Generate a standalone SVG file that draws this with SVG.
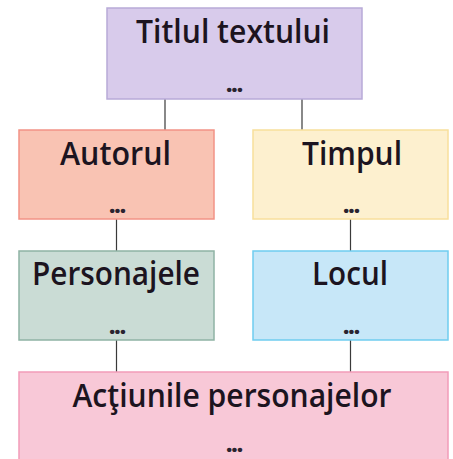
<svg xmlns="http://www.w3.org/2000/svg" width="453" height="459" viewBox="0 0 453 459">
<style>
.t{font-family:"Open Sans","Liberation Sans",sans-serif;font-size:33px;fill:#1c1420;text-anchor:middle;font-weight:600}
.d{font-family:"Open Sans","Liberation Sans",sans-serif;font-size:22px;fill:#2a2430;text-anchor:middle;font-weight:800;letter-spacing:-1px}
.c{stroke:#3a3a3a;stroke-width:1.2;fill:none}
</style>
<rect width="453" height="459" fill="#ffffff"/>
<g id="connectors">
<line class="c" x1="165" y1="99" x2="165" y2="130"/>
<line class="c" x1="302" y1="99" x2="302" y2="130"/>
<line class="c" x1="116.5" y1="219" x2="116.5" y2="251"/>
<line class="c" x1="350.5" y1="219" x2="350.5" y2="251"/>
<line class="c" x1="116.5" y1="340" x2="116.5" y2="372"/>
<line class="c" x1="350.5" y1="340" x2="350.5" y2="372"/>
</g>
<g id="titlu">
<rect x="107" y="8" width="255" height="91" fill="#d8cbeb" stroke="#b8aad8" stroke-width="1.5"/>
<text class="t" x="233" y="43" textLength="194" lengthAdjust="spacingAndGlyphs">Titlul textului</text>
<text class="d" x="234" y="92">...</text>
</g>
<g id="autorul">
<rect x="19" y="130" width="195" height="89" fill="#f9c3b3" stroke="#f29386" stroke-width="1.5"/>
<text class="t" x="115.5" y="165" textLength="111" lengthAdjust="spacingAndGlyphs">Autorul</text>
<text class="d" x="117" y="213">...</text>
</g>
<g id="timpul">
<rect x="253" y="130" width="195" height="89" fill="#fdf0cf" stroke="#f8df9c" stroke-width="1.5"/>
<text class="t" x="352" y="165" textLength="100" lengthAdjust="spacingAndGlyphs">Timpul</text>
<text class="d" x="351" y="213">...</text>
</g>
<g id="personajele">
<rect x="19" y="251" width="195" height="89" fill="#cadcd5" stroke="#8fb3a4" stroke-width="1.5"/>
<text class="t" x="116" y="285" textLength="168" lengthAdjust="spacingAndGlyphs">Personajele</text>
<text class="d" x="117" y="334">...</text>
</g>
<g id="locul">
<rect x="253" y="251" width="195" height="89" fill="#c7e7f8" stroke="#6fcdef" stroke-width="1.5"/>
<text class="t" x="350" y="285" textLength="76" lengthAdjust="spacingAndGlyphs">Locul</text>
<text class="d" x="351" y="334">...</text>
</g>
<g id="actiunile">
<rect x="19" y="372" width="429" height="92" fill="#f8c8d7" stroke="#f29cb9" stroke-width="1.5"/>
<text class="t" x="232" y="407" textLength="319" lengthAdjust="spacingAndGlyphs">Acţiunile personajelor</text>
<text class="d" x="234" y="452">...</text>
</g>
</svg>
